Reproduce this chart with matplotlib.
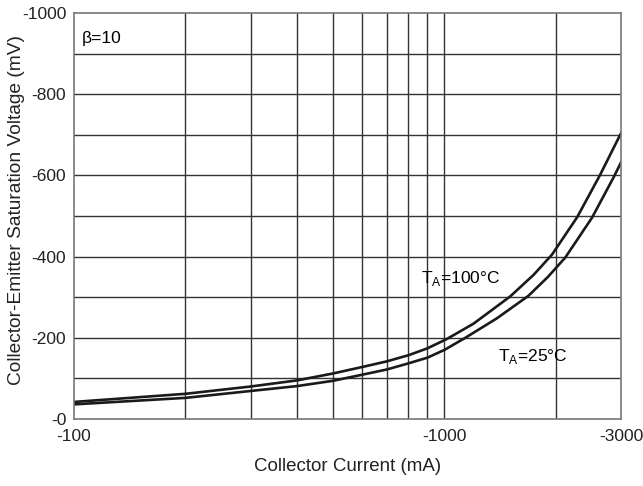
import numpy as np
import matplotlib.pyplot as plt

plt.rcParams['font.family'] = ['Liberation Sans', 'DejaVu Sans']

# collector current (mA, magnitude) and saturation voltage (mV, magnitude)
current_100c = [100, 200, 300, 400, 500, 600, 700, 800, 900, 1016, 1200, 1507, 1742, 1954, 2284, 2630, 3000]
vce_100c = [42, 62, 80, 95, 112, 128, 142, 157, 174, 197, 235, 302, 355, 405, 497, 600, 704]
current_25c = [100, 200, 300, 400, 500, 600, 700, 800, 900, 1000, 1140, 1387, 1685, 1900, 2123, 2506, 2868, 3000]
vce_25c = [36, 52, 69, 81, 94, 109, 122, 137, 151, 170, 200, 248, 303, 349, 398, 496, 596, 632]

xticks = [100, 1000, 3000]
xtick_labels = ['-100', '-1000', '-3000']
yticks = [0, -200, -400, -600, -800, -1000]
ytick_labels = ['-0', '-200', '-400', '-600', '-800', '-1000']

fig = plt.figure(figsize=(6.43, 4.86), dpi=100)
ax = fig.add_axes([0.1151, 0.1379, 0.8507, 0.8354])

ax.plot(current_100c, -np.array(vce_100c), color='#1a1a1a', lw=1.9)
ax.plot(current_25c, -np.array(vce_25c), color='#1a1a1a', lw=1.9)

ax.set_xscale('log')
ax.set_xlim(100, 3000)
ax.set_ylim(0, -1000)

grid_x = [200, 300, 400, 500, 600, 700, 800, 900, 1000, 2000]
for gx in grid_x:
    ax.axvline(gx, color='#333333', lw=1.0, zorder=0)
for gy in range(-100, -1000, -100):
    ax.axhline(gy, color='#333333', lw=1.0, zorder=0)

ax.set_xticks(xticks)
ax.set_xticklabels(xtick_labels)
ax.xaxis.set_minor_locator(plt.NullLocator())
ax.set_yticks(yticks)
ax.set_yticklabels(ytick_labels)
ax.tick_params(length=0, labelsize=12.5, colors='#222222', pad=5.5)
ax.tick_params(axis='x', pad=7.5)

for s in ax.spines.values():
    s.set_color('#777777')
    s.set_linewidth(1.2)

ax.set_xlabel('Collector Current (mA)', fontsize=13.5, color='#222222', va='center')
ax.xaxis.set_label_coords(0.5, -0.116)
ax.set_ylabel('Collector-Emitter Saturation Voltage (mV)', fontsize=13.8, color='#222222', va='center')
ax.yaxis.set_label_coords(-0.106, 0.515)

ax.text(0.015, 0.955, 'β=10', transform=ax.transAxes, fontsize=12.5, va='top')
ax.text(0.634, 0.347, r'T$_\mathregular{A}$=100°C', transform=ax.transAxes, fontsize=12.5, va='center')
ax.text(0.775, 0.155, r'T$_\mathregular{A}$=25°C', transform=ax.transAxes, fontsize=12.5, va='center')

fig.savefig('out.png', dpi=100)
